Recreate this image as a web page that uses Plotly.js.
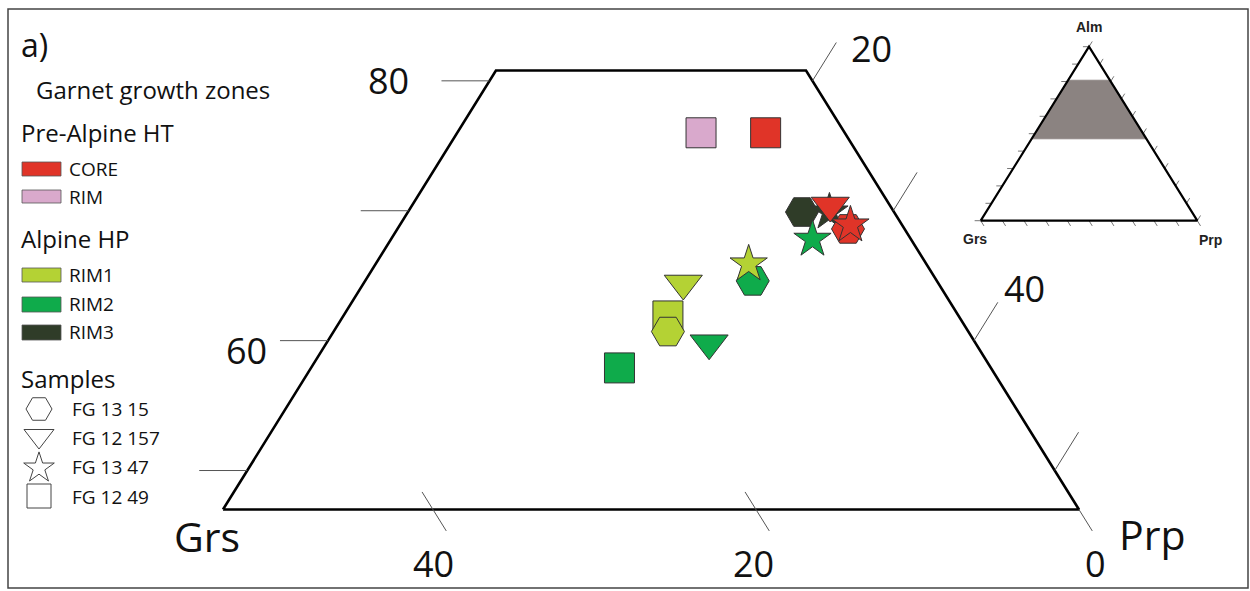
<!DOCTYPE html>
<html>
<head>
<meta charset="utf-8">
<script src="https://cdn.plot.ly/plotly-3.0.1.min.js"></script>
<style>html,body{margin:0;padding:0;background:#fff}#chart{width:1250px;height:591px}</style>
</head>
<body>
<div id="chart"></div>
<script>
// ---------------- DATA (garnet end-member proportions, %) ----------------
const zoneNames   = ['CORE', 'RIM', 'RIM1', 'RIM2', 'RIM3'];
const zoneColors  = ['#e03428', '#d9a9cc', '#b4d234', '#0fab4b', '#2f3c28'];
const drawOrder   = ['RIM', 'RIM3', 'RIM2', 'RIM1', 'CORE'];

const sampleNames   = ['FG 13 15', 'FG 12 157', 'FG 13 47', 'FG 12 49'];
const sampleSymbols = ['hexagon2', 'triangle-down', 'star', 'square'];

const pointZone   = ['RIM', 'RIM3', 'RIM3', 'RIM2', 'RIM2', 'RIM2', 'RIM2', 'RIM1', 'RIM1', 'RIM1', 'RIM1', 'CORE', 'CORE', 'CORE', 'CORE'];
const pointSample = ['FG 12 49', 'FG 13 15', 'FG 13 47', 'FG 13 15', 'FG 13 47', 'FG 12 157', 'FG 12 49', 'FG 12 49', 'FG 13 15', 'FG 12 157', 'FG 13 47', 'FG 12 49', 'FG 13 15', 'FG 13 47', 'FG 12 157'];
const almValues   = [76.0, 69.9, 69.9, 64.6, 67.8, 59.8, 57.9, 61.9, 60.7, 64.4, 65.9, 76.0, 68.6, 68.9, 70.4];
const grsValues   = [ 8.9,  5.7,  4.0, 11.4,  6.1, 16.5, 23.0, 18.0, 18.6, 15.8, 11.0,  4.9,  3.5,  3.2,  3.7];
const prpValues   = [15.1, 24.4, 26.1, 24.0, 26.1, 23.7, 19.1, 20.1, 20.7, 19.8, 23.1, 19.1, 27.9, 27.9, 25.9];

// diagram window (Alm range shown in the truncated ternary)
const almMin = 47.0, almMax = 80.8;
const almTicks = [50, 60, 70, 80], almLabels = [80, 60];
const prpTicks = [20, 30, 40, 50], prpLabels = [20, 40];
const grsTicks = [40, 20, 0],      grsLabels = [40, 20, 0];

// ---------------- helpers ----------------
// ternary -> cartesian (Grs left, Prp right, Alm top); Y = Alm
function tx(a, g, p) { const s = a + g + p; return 100 * (p / s) + 50 * (a / s); }
function ty(a, g, p) { const s = a + g + p; return 100 * (a / s); }
function P(a, p) { return [p + a / 2, a]; } // raw geometry helper (no normalisation)
const W = 1250, H = 591;
const px = x => x / W, py = y => 1 - y / H;

const traces = [];

// ---------------- main truncated ternary frame ----------------
const frame = [P(almMin, 0), P(almMin, 100 - almMin), P(almMax, 100 - almMax), P(almMax, 0), P(almMin, 0)];
traces.push({x: frame.map(d => d[0]), y: frame.map(d => d[1]), mode: 'lines', line: {color: '#000', width: 2.6},
  hoverinfo: 'skip', showlegend: false});

// ticks
const tkx = [], tky = [];
const unitX = 16.15; // px per X unit
almTicks.forEach(a => { const s = P(a, 0); tkx.push(s[0], s[0] - 48 / unitX, null); tky.push(s[1], s[1], null); });
prpTicks.forEach(p => { const s = P(100 - p, p), e = P(100 - p + 2.95, p); tkx.push(s[0], e[0], null); tky.push(s[1], e[1], null); });
grsTicks.forEach(g => {
  const a0 = g === 0 ? almMin : almMin + 1.35, a1 = almMin - 1.65;
  const s = P(a0, 100 - g - a0), e = P(a1, 100 - g - a1);
  tkx.push(s[0], e[0], null); tky.push(s[1], e[1], null);
});
traces.push({x: tkx, y: tky, mode: 'lines', line: {color: '#555', width: 1}, hoverinfo: 'skip', showlegend: false});

// ---------------- data points ----------------
drawOrder.forEach(z => {
  const zi = zoneNames.indexOf(z);
  const idx = pointZone.map((v, i) => v === z ? i : -1).filter(i => i >= 0);
  const sizes = idx.map(i => ({'hexagon2': 33, 'triangle-down': 33, 'star': 28, 'square': 30})[sampleSymbols[sampleNames.indexOf(pointSample[i])]]);
  traces.push({
    x: idx.map(i => tx(almValues[i], grsValues[i], prpValues[i])),
    y: idx.map(i => ty(almValues[i], grsValues[i], prpValues[i])),
    mode: 'markers', name: z, showlegend: false,
    text: idx.map(i => pointSample[i]),
    marker: {color: zoneColors[zi], size: sizes, opacity: 1,
      symbol: idx.map(i => sampleSymbols[sampleNames.indexOf(pointSample[i])]),
      line: {color: '#333', width: 1}},
    cliponaxis: false
  });
});

// ---------------- inset full ternary ----------------
const band = [P(almMin, 0), P(almMin, 100 - almMin), P(almMax, 100 - almMax), P(almMax, 0), P(almMin, 0)];
traces.push({x: band.map(d => d[0]), y: band.map(d => d[1]), xaxis: 'x2', yaxis: 'y2', mode: 'lines',
  fill: 'toself', fillcolor: '#8b8381', line: {color: '#a39c9a', width: 0.8}, hoverinfo: 'skip', showlegend: false});
const ix = [], iy = [];
for (let i = 0; i <= 10; i++) {
  const v = 10 * i;
  let s = P(v, 0); ix.push(s[0], s[0] - 2.8, null); iy.push(s[1], s[1], null);
  s = P(100 - v, v); let e = P(100 - v + 3, v); ix.push(s[0], e[0], null); iy.push(s[1], e[1], null);
  s = P(0, 100 - v); e = P(-3, 100 - v + 3); ix.push(s[0], e[0], null); iy.push(s[1], e[1], null);
}
traces.push({x: ix, y: iy, xaxis: 'x2', yaxis: 'y2', mode: 'lines', line: {color: '#777', width: 1}, hoverinfo: 'skip', showlegend: false});
const tri = [P(0, 0), P(0, 100), P(100, 0), P(0, 0)];
traces.push({x: tri.map(d => d[0]), y: tri.map(d => d[1]), xaxis: 'x2', yaxis: 'y2', mode: 'lines',
  line: {color: '#000', width: 2.2}, hoverinfo: 'skip', showlegend: false});

// ---------------- legend symbols (pixel space axes) ----------------
traces.push({x: [39, 39, 39, 39], y: [409, 436, 468, 496], xaxis: 'x3', yaxis: 'y3', mode: 'markers',
  marker: {symbol: sampleSymbols.map(s => s + '-open'), size: [26, 26, 23, 24], color: '#444', opacity: 1, line: {width: 1}},
  hoverinfo: 'skip', showlegend: false, cliponaxis: false});

// ---------------- annotations ----------------
const F = 'Open Sans, Noto Sans, sans-serif';
const ann = [];
function A(text, x, y, size, xanchor, extra) {
  ann.push(Object.assign({text: text, xref: 'paper', yref: 'paper', x: px(x), y: py(y), xanchor: xanchor || 'center',
    yanchor: 'middle', showarrow: false, font: {family: F, size: size, color: '#111'}}, extra || {}));
}
A('a)', 19, 44, 32, 'left');
A('Garnet growth zones', 34, 89, 24, 'left');
A('Pre-Alpine HT', 19, 132, 24, 'left');
A('Alpine HP', 19, 239, 24, 'left');
A('Samples', 19, 378, 24, 'left');
const zoneLegendY = [169, 197, 275, 304, 332];
zoneNames.forEach((z, i) => A(z, 67, zoneLegendY[i], 19, 'left'));
const sampleLegendY = [409, 438, 467, 497];
sampleNames.forEach((s, i) => A(s, 70, sampleLegendY[i], 19, 'left'));

// axis labels
A(String(almLabels[0]), 389, 80, 36); A(String(almLabels[1]), 246, 350, 36);
A(String(prpLabels[0]), 871, 48, 36); A(String(prpLabels[1]), 1024, 288, 36);
A(String(grsLabels[0]), 433, 563, 36); A(String(grsLabels[1]), 753, 563, 36); A(String(grsLabels[2]), 1095, 563, 36);
A('Grs', 207, 536, 41); A('Prp', 1152, 534, 41);
// inset labels
const FB = 'Liberation Sans, Arial, sans-serif';
A('<b>Alm</b>', 1089, 27, 14, 'center', {font: {family: FB, size: 14, color: '#222'}});
A('<b>Grs</b>', 975, 239, 14, 'center', {font: {family: FB, size: 14, color: '#222'}});
A('<b>Prp</b>', 1210, 240, 14, 'center', {font: {family: FB, size: 14, color: '#222'}});

// ---------------- shapes: legend swatches + outer frame ----------------
const swY = [[162, 176], [190, 203], [268, 282], [297, 312], [325, 340]];
const shapes = zoneNames.map((z, i) => ({type: 'rect', xref: 'paper', yref: 'paper',
  x0: px(22), x1: px(61), y0: py(swY[i][1]), y1: py(swY[i][0]),
  fillcolor: zoneColors[i], line: {color: '#555', width: 0.8}}));
shapes.push({type: 'rect', xref: 'paper', yref: 'paper', x0: px(8), x1: px(1248), y0: py(588), y1: py(9),
  line: {color: '#444', width: 1.5}, fillcolor: 'rgba(0,0,0,0)'});

// ---------------- layout ----------------
const uX = 16.15, uY = 12.99, xL = 223, yB = 509.5;
const x0 = (almMin / 2) - xL / uX, x1 = x0 + W / uX;
const yTop = almMin + yB / uY, yBot = almMin - (H - yB) / uY;
// inset: triangle from Grs(980.7,220.7) to Prp(1197.3,220.7), apex y 46.7
const iU = (1197.3 - 980.7) / 100, iV = (220.7 - 46.7) / 100, pad = 6;
const layout = {
  width: W, height: H, margin: {l: 0, r: 0, t: 0, b: 0}, paper_bgcolor: '#fff', plot_bgcolor: 'rgba(0,0,0,0)',
  xaxis: {domain: [0, 1], range: [x0, x1], visible: false, fixedrange: true},
  yaxis: {domain: [0, 1], range: [yBot, yTop], visible: false, fixedrange: true},
  xaxis2: {domain: [px(980.7 - pad * iU), px(1197.3 + pad * iU)], range: [-pad, 100 + pad], anchor: 'y2', visible: false, fixedrange: true},
  yaxis2: {domain: [py(220.7 + pad * iV), py(46.7 - pad * iV)], range: [-pad, 100 + pad], anchor: 'x2', visible: false, fixedrange: true},
  xaxis3: {domain: [0, 1], range: [0, W], anchor: 'y3', visible: false, fixedrange: true},
  yaxis3: {domain: [0, 1], range: [H, 0], anchor: 'x3', visible: false, fixedrange: true},
  showlegend: false, annotations: ann, shapes: shapes
};
Plotly.newPlot('chart', traces, layout, {staticPlot: true, displayModeBar: false});
</script>
</body>
</html>
